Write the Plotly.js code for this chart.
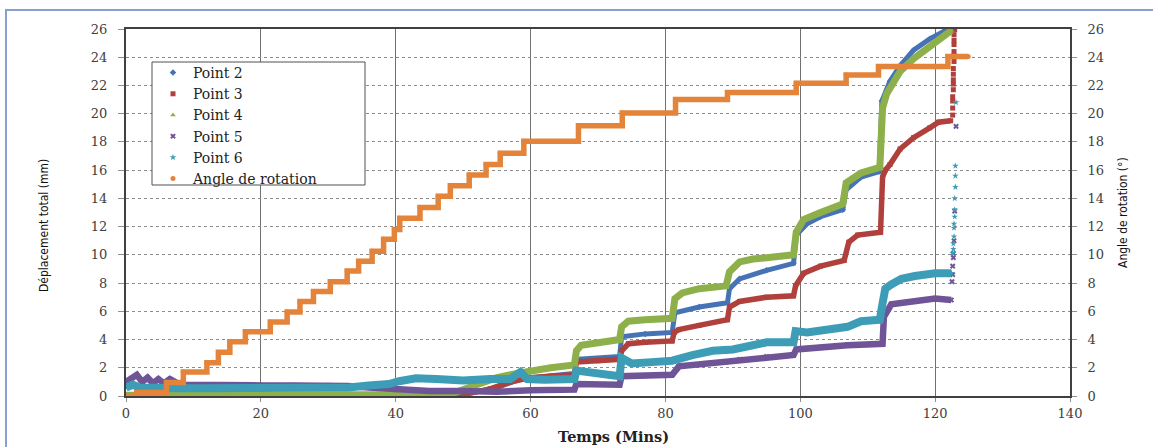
<!DOCTYPE html>
<html>
<head>
<meta charset="utf-8">
<script src="https://cdn.plot.ly/plotly-3.0.1.min.js"></script>
<style>
html,body{margin:0;padding:0;background:#fff;overflow:hidden;}
#chart{position:absolute;left:0;top:0;width:1153px;height:447px;}
#frame{position:absolute;left:5px;top:9px;width:1300px;height:600px;border-left:2px solid #86a0cf;border-top:2px solid #86a0cf;pointer-events:none;}
</style>
</head>
<body>
<div id="chart"></div>
<div id="frame"></div>
<script>
// ---- data (time in minutes, displacement in mm, angle in degrees) ----
const p2T = [0, 50, 55, 58, 60, 66.5, 66.8, 73.2, 73.5, 77, 81.0, 81.4, 85, 89.2, 89.5, 91, 95, 99.0, 99.4, 101, 103, 106.3, 106.8, 109, 111.7, 112.1, 113.3, 114.8, 116.8, 119.2, 121.2, 122.0];
const p2V = [0.05, 0.1, 0.6, 1.1, 1.3, 1.6, 2.6, 2.8, 4.2, 4.4, 4.5, 5.9, 6.3, 6.6, 7.6, 8.3, 8.9, 9.4, 11.4, 12.2, 12.7, 13.2, 14.6, 15.5, 15.9, 20.9, 22.3, 23.4, 24.5, 25.3, 25.8, 26.0];

const p3T = [0, 50, 54, 57, 60, 63, 66.5, 66.8, 70, 73.2, 73.5, 74.5, 77, 81.0, 81.3, 82, 85, 89.2, 89.5, 91, 95, 99.0, 99.3, 100.5, 103, 106.5, 107.2, 108.5, 111.9, 112.2, 112.6, 113.3, 114.8, 116.8, 119.2, 120.5, 122.3];
const p3V = [0.05, 0.1, 0.5, 1.0, 1.3, 1.4, 1.5, 2.4, 2.5, 2.6, 3.2, 3.7, 3.8, 3.9, 4.5, 4.7, 5.0, 5.4, 6.3, 6.7, 7.0, 7.1, 7.8, 8.7, 9.2, 9.6, 10.9, 11.4, 11.6, 15.5, 16.0, 16.4, 17.5, 18.3, 19.0, 19.4, 19.5];
const p3TailT = [122.6, 122.6, 122.6, 122.6, 122.7, 122.7, 122.7, 122.7, 122.7, 122.8, 122.8, 122.8, 122.8, 122.8, 122.8, 122.9];
const p3TailV = [19.9, 20.4, 20.9, 21.2, 21.7, 22.1, 22.4, 22.8, 23.2, 23.7, 24.1, 24.4, 24.9, 25.2, 25.6, 25.95];

const p4T = [0, 48, 52, 55, 58, 60, 63, 66.5, 66.8, 67.5, 70, 73.2, 73.5, 74.5, 77, 81.0, 81.4, 82.5, 85, 89.0, 89.5, 91, 93, 96, 99.0, 99.4, 100.5, 103, 106.3, 106.8, 109, 111.8, 112.2, 112.8, 113.8, 114.8, 116.8, 119.2, 121.2, 122.4];
const p4V = [0.05, 0.1, 0.8, 1.3, 1.6, 1.8, 2.0, 2.2, 3.2, 3.6, 3.8, 4.0, 4.9, 5.3, 5.4, 5.5, 6.9, 7.3, 7.6, 7.8, 8.8, 9.5, 9.7, 9.8, 10.0, 11.6, 12.5, 13.0, 13.6, 15.1, 15.8, 16.2, 20.4, 21.4, 22.3, 23.0, 23.9, 24.8, 25.4, 25.9];

const p5T = [0, 0.8, 1.6, 2.4, 3.2, 4.0, 4.8, 5.6, 6.5, 8, 12, 16, 20, 25, 30, 33, 36, 40, 45, 50, 55, 60, 66.5, 66.8, 73.2, 73.5, 77, 81, 82, 86, 89, 91, 95, 99.0, 99.4, 103, 107, 112.2, 112.4, 113.5, 115, 118, 120, 122.4];
const p5V = [1.0, 1.2, 1.5, 1.0, 1.3, 0.9, 1.2, 0.9, 1.2, 0.8, 0.75, 0.8, 0.75, 0.75, 0.75, 0.7, 0.6, 0.45, 0.35, 0.35, 0.3, 0.4, 0.45, 0.85, 0.8, 1.4, 1.45, 1.5, 2.1, 2.3, 2.4, 2.6, 2.8, 2.9, 3.3, 3.45, 3.6, 3.7, 5.6, 6.5, 6.6, 6.8, 6.9, 6.8];
const p5TailT = [122.5, 122.6, 122.6, 122.7, 122.7, 122.8, 122.9, 123.1];
const p5TailV = [8.1, 8.6, 9.2, 9.8, 10.1, 11.0, 13.1, 19.1];

const p6T = [0, 1, 2, 4, 6, 8, 12, 16, 20, 25, 30, 33, 36, 39, 40.5, 43, 46, 50, 54, 57, 58.5, 59.5, 62, 66.5, 66.8, 70, 73.2, 73.5, 75, 78, 81, 84, 87, 90, 93, 95, 99.0, 99.3, 101, 104, 107, 109, 111.8, 112.1, 112.6, 113.5, 115, 117, 120, 122.4];
const p6V = [0.6, 0.8, 0.6, 0.55, 0.5, 0.55, 0.55, 0.55, 0.55, 0.55, 0.55, 0.6, 0.75, 0.85, 1.05, 1.25, 1.2, 1.1, 1.2, 1.2, 1.7, 1.2, 1.15, 1.2, 1.8, 1.6, 1.4, 2.7, 2.3, 2.4, 2.5, 2.9, 3.2, 3.3, 3.6, 3.8, 3.8, 4.6, 4.5, 4.7, 4.9, 5.3, 5.4, 6.3, 7.6, 7.9, 8.3, 8.5, 8.7, 8.7];
const p6TailT = [122.6, 122.7, 122.7, 122.8, 122.8, 122.8, 122.9, 122.9, 122.9, 123.0, 123.0, 123.0, 123.1];
const p6TailV = [10.1, 10.4, 10.8, 11.3, 11.9, 12.2, 12.7, 13.2, 14.0, 14.8, 15.6, 16.3, 20.8];

const angleT = [0, 1.6, 6.0, 8.5, 12.0, 13.7, 15.4, 17.7, 21.4, 23.9, 25.8, 27.8, 30.3, 32.8, 34.5, 36.5, 38.2, 39.8, 40.6, 43.6, 46.3, 48.1, 50.9, 53.4, 55.5, 59.0, 67.1, 73.6, 81.5, 89.2, 99.4, 106.8, 111.6, 121.9, 124.9];
const angleV = [0, 0.25, 0.95, 1.7, 2.35, 3.1, 3.85, 4.55, 5.25, 5.95, 6.7, 7.4, 8.1, 8.85, 9.55, 10.25, 11.1, 11.8, 12.6, 13.35, 14.15, 14.9, 15.65, 16.4, 17.2, 18.05, 19.15, 20.05, 21.0, 21.5, 22.15, 22.75, 23.35, 24.05, 24.05];

const seriesNames = ['Point 2', 'Point 3', 'Point 4', 'Point 5', 'Point 6', 'Angle de rotation'];
const xTicks = [0, 20, 40, 60, 80, 100, 120, 140];
const yTicks = [0, 2, 4, 6, 8, 10, 12, 14, 16, 18, 20, 22, 24, 26];

// ---- styles ----
const colors = ['#4573b5', '#b0403c', '#8eb04a', '#6f5597', '#3e9db6', '#e3843a'];
const symbols = ['diamond', 'square', 'triangle-up', 'x', 'star', 'circle'];
const widths = [5, 5.5, 7, 6.5, 8];

function band(i, t, v, tailT, tailV) {
  return [
    {x: t, y: v, type: 'scatter', mode: 'lines', showlegend: false, legendgroup: seriesNames[i],
     line: {color: colors[i], width: widths[i]}, hoverinfo: 'skip'},
    {x: t.concat(tailT || []), y: v.concat(tailV || []), type: 'scatter', mode: 'markers',
     name: seriesNames[i], legendgroup: seriesNames[i],
     marker: {color: colors[i], size: 5, symbol: symbols[i], line: {width: 0}}}
  ];
}

const traces = [].concat(
  band(0, p2T, p2V),
  band(1, p3T, p3V, p3TailT, p3TailV),
  band(2, p4T, p4V),
  band(3, p5T, p5V, p5TailT, p5TailV),
  band(4, p6T, p6V, p6TailT, p6TailV),
  [
    {x: angleT, y: angleV, yaxis: 'y2', type: 'scatter', mode: 'lines', showlegend: false,
     legendgroup: seriesNames[5], line: {color: colors[5], width: 5.5, shape: 'hv'}, hoverinfo: 'skip'},
    {x: angleT, y: angleV, yaxis: 'y2', type: 'scatter', mode: 'markers', name: seriesNames[5],
     legendgroup: seriesNames[5], marker: {color: colors[5], size: 5, symbol: symbols[5]}}
  ]
);

const tickFont = {family: 'DejaVu Serif, Liberation Serif, serif', size: 13, color: '#404040'};
const narrow = 'DejaVu Sans Condensed, Liberation Sans Narrow, sans-serif';

const L = 126, R = 1070, T = 29, B = 396;
const px2x = p => (p - L) / (R - L);
const px2y = p => (B - p) / (B - T);

const layout = {
  width: 1153, height: 447,
  margin: {l: L, r: 1153 - R, t: T, b: 447 - B, pad: 0},
  paper_bgcolor: '#ffffff', plot_bgcolor: '#ffffff',
  showlegend: true,
  xaxis: {
    range: [0, 140], tickvals: xTicks, ticktext: xTicks.map(String),
    showgrid: true, gridcolor: '#707070', gridwidth: 1,
    showline: true, linecolor: '#404040', linewidth: 2, mirror: true,
    ticks: 'outside', ticklen: 4, tickcolor: '#909090', tickfont: tickFont,
    zeroline: false, fixedrange: true
  },
  yaxis: {
    range: [0, 26], tickvals: yTicks, ticktext: yTicks.map(String),
    showgrid: true, gridcolor: '#8c8c8c', gridwidth: 1, griddash: 'dot',
    showline: true, linecolor: '#404040', linewidth: 2,
    ticks: 'outside', ticklen: 6, tickcolor: '#909090', tickfont: tickFont,
    ticklabelstandoff: 8,
    zeroline: false, fixedrange: true
  },
  yaxis2: {
    overlaying: 'y', side: 'right', anchor: 'x',
    range: [0, 26], tickvals: yTicks, ticktext: yTicks.map(String),
    showgrid: false, showline: true, linecolor: '#404040', linewidth: 2,
    ticks: 'outside', ticklen: 5, tickcolor: '#909090', tickfont: tickFont,
    ticklabelstandoff: 8,
    zeroline: false, fixedrange: true
  },
  legend: {
    x: px2x(153), y: px2y(57), xanchor: 'left', yanchor: 'top',
    bgcolor: 'rgba(0,0,0,0)', borderwidth: 0,
    font: {family: 'DejaVu Serif, Liberation Serif, serif', size: 14, color: '#222'},
    tracegroupgap: 0
  },
  shapes: [
    {type: 'rect', xref: 'paper', yref: 'paper', layer: 'above',
     x0: px2x(152), x1: px2x(365), y0: px2y(185), y1: px2y(62),
     fillcolor: '#ffffff', line: {color: '#505050', width: 1}}
  ],
  annotations: [
    {text: 'Temps (Mins)', xref: 'paper', yref: 'paper', x: px2x(613), y: px2y(436),
     showarrow: false, xanchor: 'center', yanchor: 'middle',
     font: {family: 'DejaVu Serif, Liberation Serif, serif', size: 14.5, color: '#222', weight: 'bold'}},
    {text: 'Déplacement total (mm)', xref: 'paper', yref: 'paper', x: px2x(44), y: px2y(226),
     showarrow: false, textangle: -90, xanchor: 'center', yanchor: 'middle',
     font: {family: narrow, size: 12, color: '#111'}},
    {text: 'Angle de rotation (°)', xref: 'paper', yref: 'paper', x: px2x(1123), y: px2y(213),
     showarrow: false, textangle: -90, xanchor: 'center', yanchor: 'middle',
     font: {family: narrow, size: 12, color: '#111'}}
  ]
};

Plotly.newPlot('chart', traces, layout, {staticPlot: true, displayModeBar: false});
</script>
</body>
</html>
